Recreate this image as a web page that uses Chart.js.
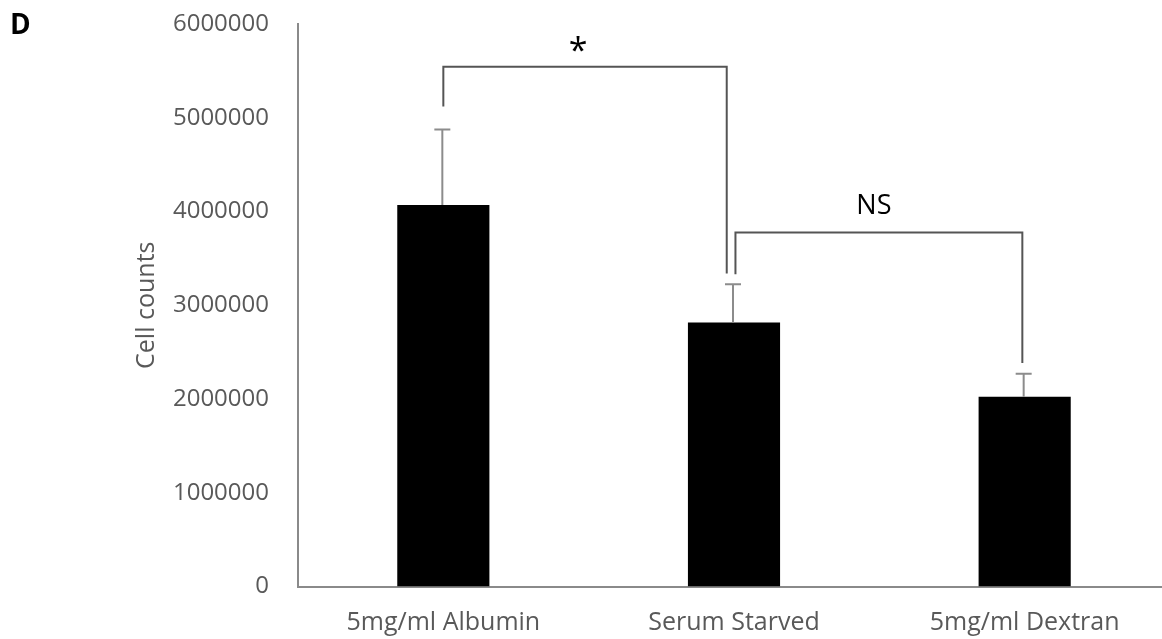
<!DOCTYPE html>
<html>
<head>
<meta charset="utf-8">
<script src="https://cdn.jsdelivr.net/npm/chart.js@4"></script>
<style>
  html, body { margin: 0; padding: 0; background: #fff; overflow: hidden; }
  #wrap { width: 1162px; height: 639px; overflow: hidden; }
</style>
</head>
<body>
<div id="wrap"><canvas id="barChart" width="1172" height="639"></canvas></div>
<script>
// values
var categories = ['5mg/ml Albumin', 'Serum Starved', '5mg/ml Dextran'];
var cellCounts = [4070000, 2815000, 2025000];
var errorSizes = [805000, 410000, 245000];
var yTicks = [0, 1000000, 2000000, 3000000, 4000000, 5000000, 6000000];

// significance brackets (x in category index, y in cell counts)
var bracketLabels = ['*', 'NS'];
var bracketFrom = [0, 1.005];
var bracketTo = [0.975, 1.992];
var bracketTop = [5545000, 3775000];
var bracketLeftEnd = [5120000, 3330000];
var bracketRightEnd = [3340000, 2385000];

var fontName = '"Open Sans", sans-serif';

var extrasPlugin = {
    id: 'extras',
    afterDatasetsDraw: function(chart){
        var ctx = chart.ctx;
        var x = chart.scales.x;
        var y = chart.scales.y;
        ctx.save();

        // error bars (upper only)
        ctx.strokeStyle = '#8c8c8c';
        ctx.lineWidth = 2;
        for (var i = 0; i < cellCounts.length; i++) {
            var cx = x.getPixelForValue(i) - 1;
            var yb = y.getPixelForValue(cellCounts[i]);
            var yt = y.getPixelForValue(cellCounts[i] + errorSizes[i]);
            ctx.beginPath();
            ctx.moveTo(cx, yb);
            ctx.lineTo(cx, yt);
            ctx.moveTo(cx - 8, yt);
            ctx.lineTo(cx + 8, yt);
            ctx.stroke();
        }

        // brackets
        ctx.strokeStyle = '#555555';
        ctx.lineWidth = 2;
        ctx.fillStyle = '#000';
        ctx.textAlign = 'center';
        ctx.textBaseline = 'middle';
        for (var b = 0; b < bracketLabels.length; b++) {
            var x1 = x.getPixelForValue(bracketFrom[b]);
            var x2 = x.getPixelForValue(bracketTo[b]);
            var yTop = y.getPixelForValue(bracketTop[b]);
            ctx.beginPath();
            ctx.moveTo(x1, y.getPixelForValue(bracketLeftEnd[b]));
            ctx.lineTo(x1, yTop);
            ctx.lineTo(x2, yTop);
            ctx.lineTo(x2, y.getPixelForValue(bracketRightEnd[b]));
            ctx.stroke();
            if (bracketLabels[b] === '*') {
                ctx.font = '34px ' + fontName;
                ctx.fillText('*', (x1 + x2) / 2 - 7, yTop - 14);
            } else {
                ctx.font = '27px ' + fontName;
                ctx.fillText(bracketLabels[b], (x1 + x2) / 2 - 5, yTop - 26);
            }
        }

        // panel letter
        ctx.font = 'bold 28px ' + fontName;
        ctx.textAlign = 'left';
        ctx.fillText('D', 10, 26);
        ctx.restore();
    }
};

var ctx = document.getElementById('barChart').getContext('2d');
var barChart = new Chart(ctx, {
    type: 'bar',
    data: {
        labels: categories,
        datasets: [{
            label: 'Cell counts',
            data: cellCounts,
            backgroundColor: '#000000',
            borderWidth: 0,
            barPercentage: 0.317,
            categoryPercentage: 1
        }]
    },
    options: {
        responsive: false,
        animation: false,
        layout: { padding: { top: 24, right: 2, left: 0, bottom: 0 } },
        plugins: {
            legend: { display: false },
            tooltip: { enabled: false }
        },
        scales: {
            x: {
                grid: { display: false, drawTicks: false },
                border: { display: true, color: '#8a8a8a', width: 2 },
                ticks: { color: '#595959', font: { family: fontName, size: 25 }, padding: 21, maxRotation: 0 },
                afterFit: function(scale){ scale.height = 52.5; }
            },
            y: {
                min: 0,
                max: 6000000,
                afterBuildTicks: function(scale){
                    scale.ticks = yTicks.map(function(v){ return { value: v }; });
                },
                grid: { display: false, drawTicks: false },
                border: { display: true, color: '#8a8a8a', width: 2 },
                ticks: {
                    color: '#595959',
                    font: { family: fontName, size: 24 },
                    padding: 29,
                    callback: function(v){ return String(v); }
                },
                title: {
                    display: true,
                    text: 'Cell counts',
                    color: '#595959',
                    font: { family: fontName, size: 25 },
                    padding: { top: 132, bottom: 0 }
                },
                afterFit: function(scale){
                    scale.width = 298;
                    scale.paddingTop = 0;
                    scale.paddingBottom = 0;
                }
            }
        }
    },
    plugins: [extrasPlugin]
});
</script>
</body>
</html>
